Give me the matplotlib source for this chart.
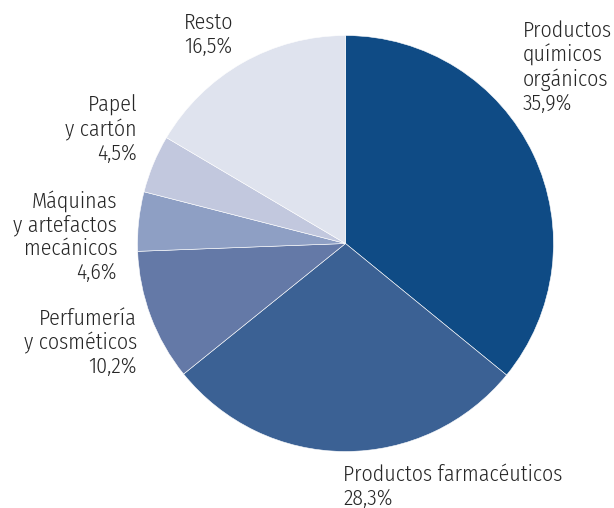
import matplotlib
matplotlib.use("Agg")
import matplotlib.pyplot as plt

categories = ["Productos químicos orgánicos", "Productos farmacéuticos", "Perfumería y cosméticos",
              "Máquinas y artefactos mecánicos", "Papel y cartón", "Resto"]
values = [35.9, 28.3, 10.2, 4.6, 4.5, 16.5]
colors = ["#0f4b85", "#3b6194", "#6479a7", "#8e9fc4", "#c2c8de", "#dfe3ee"]
label_texts = ["Productos\nquímicos\norgánicos\n35,9%", "Productos farmacéuticos\n28,3%",
               "Perfumería\ny cosméticos\n10,2%", "Máquinas\ny artefactos\nmecánicos\n4,6%",
               "Papel\ny cartón\n4,5%", "Resto\n16,5%"]

plt.rcParams['font.family'] = ['Fira Sans Condensed', 'DejaVu Sans']

W, H = 614, 508
fig = plt.figure(figsize=(W / 100, H / 100), dpi=100)
cx, cy, r = 345.5, 243.5, 208
ax = fig.add_axes([(cx - r) / W, 1 - (cy + r) / H, 2 * r / W, 2 * r / H])
ax.pie(values, colors=colors, startangle=90, counterclock=False, radius=1,
       wedgeprops=dict(edgecolor="white", linewidth=0.4))
ax.set_xlim(-1, 1)
ax.set_ylim(-1, 1)
ax.set_aspect("equal")
ax.axis("off")

# label anchors in pixels: (x, last-line baseline y, ha)
anchors = [(523, 110, "left"), (343, 505, "left"), (137, 373, "right"),
           (117, 279, "right"), (137, 160, "right"), (184, 53, "left")]
for txt, (x, y, ha) in zip(label_texts, anchors):
    fig.text(x / W, 1 - y / H, txt, ha=ha, va="baseline", fontsize=15.7, color="#262626",
             fontweight=300, linespacing=1.14, multialignment=ha)

fig.savefig("out.png", dpi=100)
